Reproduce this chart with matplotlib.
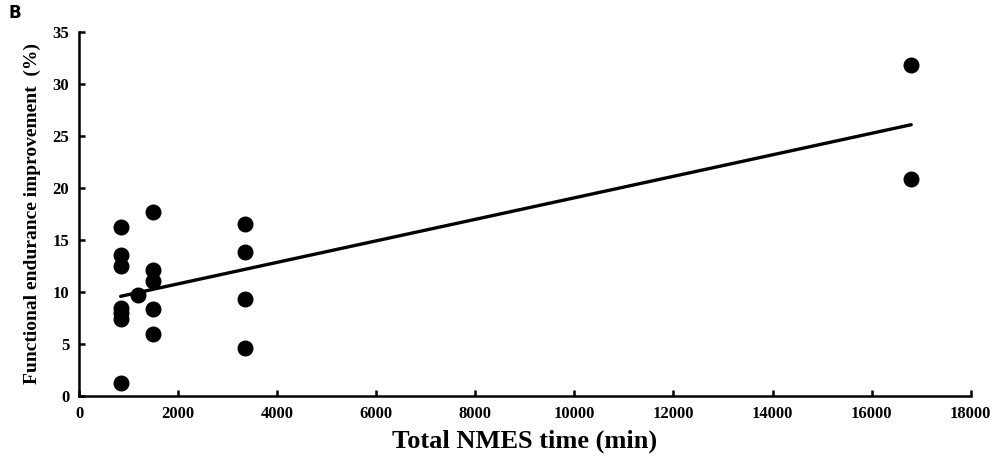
import numpy as np
import matplotlib.pyplot as plt

# total NMES time (min) and functional endurance improvement (%)
nmes_time = [840, 840, 840, 840, 840, 840, 840,
             1200,
             1500, 1500, 1500, 1500, 1500,
             3360, 3360, 3360, 3360,
             16800, 16800]
improvement = [16.2, 13.5, 12.5, 8.5, 8.0, 7.4, 1.2,
               9.7,
               17.7, 12.1, 11.0, 8.4, 6.0,
               16.5, 13.8, 9.3, 4.6,
               31.8, 20.9]

x_ticks = np.arange(0, 18001, 2000)
y_ticks = np.arange(0, 36, 5)

plt.rcParams['font.family'] = 'Liberation Serif'
plt.rcParams['font.weight'] = 'bold'

fig = plt.figure(figsize=(9.94, 4.68), dpi=100)
ax = fig.add_axes([0.0795, 0.154, 0.897, 0.778])

x = np.array(nmes_time, dtype=float)
y = np.array(improvement)
slope, intercept = np.polyfit(x, y, 1)
xl = np.array([x.min(), x.max()])
ax.plot(xl, slope * xl + intercept, color='black', lw=2.4, solid_capstyle='round', zorder=2)

ax.plot(x, y, 'o', color='black', markersize=10.5, zorder=3)

ax.set_xlim(0, 18000)
ax.set_ylim(0, 35)
ax.set_xticks(x_ticks)
ax.set_yticks(y_ticks)
ax.tick_params(direction='in', length=4, width=1.8, labelsize=12, pad=7)
for lab in ax.get_xticklabels() + ax.get_yticklabels():
    lab.set_fontweight('bold')

for side in ['top', 'right']:
    ax.spines[side].set_visible(False)
for side in ['left', 'bottom']:
    ax.spines[side].set_linewidth(1.8)

ax.set_xlabel('Total NMES time (min)', fontsize=19, fontweight='bold', labelpad=6)
ax.set_ylabel('Functional endurance improvement  (%)', fontsize=14, fontweight='bold', labelpad=8)

fig.text(0.009, 0.972, 'B', fontsize=12, fontweight='bold', family='DejaVu Sans', va='center')

fig.savefig('out.png', dpi=100)
